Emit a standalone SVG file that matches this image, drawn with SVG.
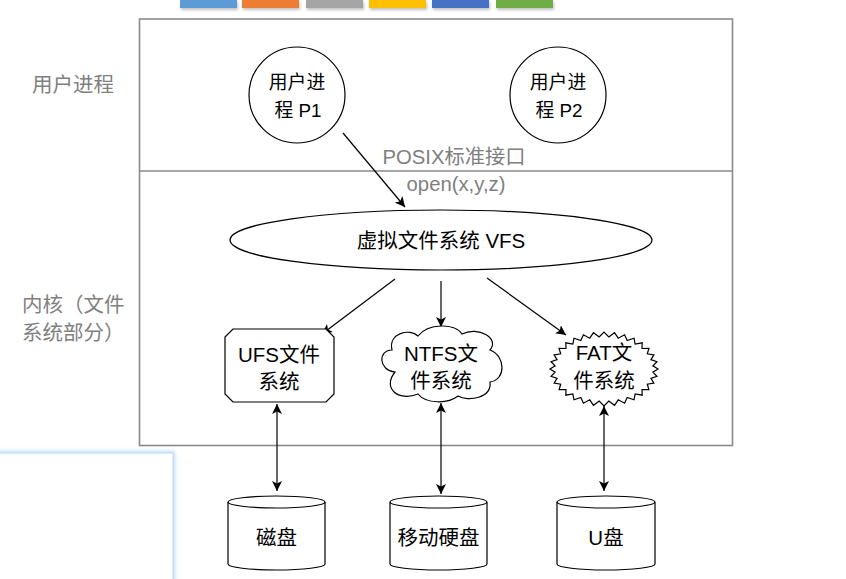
<svg xmlns="http://www.w3.org/2000/svg" width="846" height="579" viewBox="0 0 846 579">
<defs>
<marker id="ah" viewBox="0 0 10 10" refX="10" refY="5" markerWidth="10" markerHeight="10" markerUnits="userSpaceOnUse" orient="auto-start-reverse">
<path d="M0,0 L10,5 L0,10 L2.5,5 Z" fill="#000"/>
</marker>
<filter id="glow" x="-10%" y="-10%" width="120%" height="120%"><feGaussianBlur stdDeviation="2"/></filter>
<filter id="sh" x="-10%" y="-50%" width="130%" height="250%"><feDropShadow dx="1" dy="2" stdDeviation="1.5" flood-color="#000" flood-opacity="0.25"/></filter>
</defs>
<style>
text{font-family:"Liberation Sans","Noto Sans CJK SC",sans-serif;text-anchor:middle;fill:#000}
.lab{fill:#808080;font-size:20.5px;text-anchor:start}
.g{fill:#808080;font-size:20.3px}
.n{fill:#fff;stroke:#000;stroke-width:1.2}
.c{stroke:#000;stroke-width:1.2;fill:none}
.t{font-size:20.5px}
.ct{font-size:18.8px}
</style>
<g id="palette" filter="url(#sh)">
<rect x="180" y="0" width="57" height="8" fill="#5B9BD5"/>
<rect x="242" y="0" width="57" height="8" fill="#ED7D31"/>
<rect x="306" y="0" width="57" height="8" fill="#A5A5A5"/>
<rect x="369" y="0" width="57" height="8" fill="#FFC000"/>
<rect x="432" y="0" width="57" height="8" fill="#4472C4"/>
<rect x="496" y="0" width="57" height="8" fill="#70AD47"/>
</g>
<g id="side-panel">
<rect x="-5" y="453" width="178" height="135" fill="none" stroke="#a9cff7" stroke-width="3" filter="url(#glow)"/>
<rect x="-5" y="453" width="178" height="135" fill="#fff" stroke="#b7d7f8" stroke-width="1"/>
</g>
<g id="frame">
<rect x="139.5" y="19" width="593" height="426.5" fill="#fff" stroke="#8a8a8a" stroke-width="1.6"/>
<line x1="139.5" y1="171" x2="732.5" y2="171" stroke="#8a8a8a" stroke-width="1.6"/>
</g>
<g id="labels">
<text class="lab" x="32" y="92">用户进程</text>
<text class="lab" x="22" y="312">内核（文件</text>
<text class="lab" x="22" y="340">系统部分）</text>
<text class="g" x="454" y="164">POSIX标准接口</text>
<text class="g" x="456" y="191">open(x,y,z)</text>
</g>
<g id="connectors">
<line class="c" x1="343" y1="133" x2="405" y2="207" marker-end="url(#ah)"/>
<line class="c" x1="395" y1="279" x2="322" y2="334" marker-end="url(#ah)"/>
<line class="c" x1="441" y1="281" x2="441" y2="327" marker-end="url(#ah)"/>
<line class="c" x1="487" y1="278" x2="566" y2="335" marker-end="url(#ah)"/>
<line class="c" x1="277" y1="404" x2="277" y2="491" marker-start="url(#ah)" marker-end="url(#ah)"/>
<line class="c" x1="441" y1="403" x2="441" y2="494" marker-start="url(#ah)" marker-end="url(#ah)"/>
<line class="c" x1="604" y1="406" x2="604" y2="491" marker-start="url(#ah)" marker-end="url(#ah)"/>
</g>
<g id="p1">
<circle class="n" cx="297" cy="95" r="48"/>
<text class="ct" x="297" y="89">用户进</text>
<text class="ct" x="298" y="117">程 P1</text>
</g>
<g id="p2">
<circle class="n" cx="558" cy="95" r="48"/>
<text class="ct" x="558" y="89">用户进</text>
<text class="ct" x="559" y="117">程 P2</text>
</g>
<g id="vfs">
<ellipse class="n" cx="441" cy="240" rx="211" ry="30"/>
<text class="t" x="441" y="248">虚拟文件系统 VFS</text>
</g>
<g id="ufs">
<polygon class="n" points="233,329 326,329 334,337 334,394 326,402 233,402 225,394 225,337"/>
<text class="t" x="279" y="362">UFS文件</text>
<text class="t" x="279" y="389">系统</text>
</g>
<g id="ntfs">
<path class="n" d="M395,372 C378,370 378,350 392,350 C388,333 410,328 418,336 C428,323 455,323 462,334 C478,326 500,338 490,350 C506,356 506,380 490,382 C492,398 468,402 458,396 C448,404 426,404 418,394 C398,402 382,388 395,372 Z"/>
<text class="t" x="441" y="361">NTFS文</text>
<text class="t" x="441" y="388">件系统</text>
</g>
<g id="fat">
<polygon class="n" vector-effect="non-scaling-stroke" transform="translate(604,369) scale(0.982,0.949)" points="55,0 49.8,3.3 53.9,7.6 47.8,9.9 50.8,14.9 44.1,16 45.7,21.7 38.7,21.6 38.9,27.6 31.7,26.3 30.6,32.4 23.6,30 21,36 14.5,32.5 10.7,38.3 4.9,33.8 0,39 -4.9,33.8 -10.7,38.3 -14.5,32.5 -21,36 -23.6,30 -30.6,32.4 -31.7,26.3 -38.9,27.6 -38.7,21.6 -45.7,21.7 -44.1,16 -50.8,14.9 -47.8,9.9 -53.9,7.6 -49.8,3.3 -55,0 -49.8,-3.3 -53.9,-7.6 -47.8,-9.9 -50.8,-14.9 -44.1,-16 -45.7,-21.7 -38.7,-21.6 -38.9,-27.6 -31.7,-26.3 -30.6,-32.4 -23.6,-30 -21,-36 -14.5,-32.5 -10.7,-38.3 -4.9,-33.8 0,-39 4.9,-33.8 10.7,-38.3 14.5,-32.5 21,-36 23.6,-30 30.6,-32.4 31.7,-26.3 38.9,-27.6 38.7,-21.6 45.7,-21.7 44.1,-16 50.8,-14.9 47.8,-9.9 53.9,-7.6 49.8,-3.3"/>
<text class="t" x="604" y="360">FAT文</text>
<text class="t" x="604" y="388">件系统</text>
</g>
<g id="disk1">
<path class="n" d="M228,502 A48.5,6 0 0 1 325,502 L325,564 A48.5,6 0 0 1 228,564 Z"/>
<path class="c" d="M228,502 A48.5,6 0 0 0 325,502"/>
<text class="t" x="276.5" y="545">磁盘</text>
</g>
<g id="disk2">
<path class="n" d="M390,502 A48.5,6 0 0 1 487,502 L487,564 A48.5,6 0 0 1 390,564 Z"/>
<path class="c" d="M390,502 A48.5,6 0 0 0 487,502"/>
<text class="t" x="438.5" y="545">移动硬盘</text>
</g>
<g id="disk3">
<path class="n" d="M557,502 A49,6 0 0 1 655,502 L655,564 A49,6 0 0 1 557,564 Z"/>
<path class="c" d="M557,502 A49,6 0 0 0 655,502"/>
<text class="t" x="606" y="545">U盘</text>
</g>
</svg>
